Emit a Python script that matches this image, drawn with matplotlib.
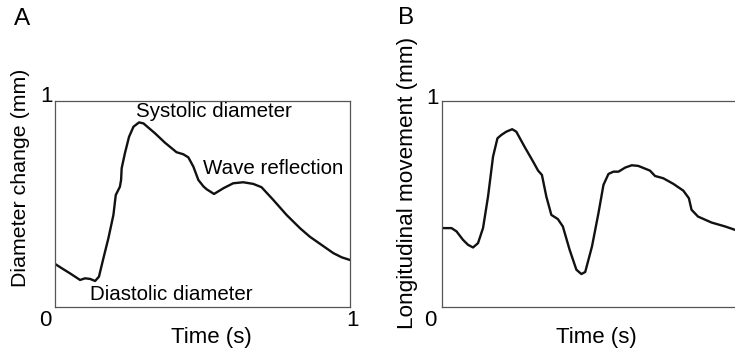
import matplotlib
matplotlib.use("Agg")
import matplotlib.pyplot as plt

plt.rcParams['font.family'] = ['Liberation Sans', 'DejaVu Sans']

# Panel A: diameter change (normalised) vs normalised time
t_a = [0.0, 0.023, 0.051, 0.085, 0.102, 0.119, 0.136, 0.149, 0.164, 0.181, 0.198,
       0.206, 0.22, 0.224, 0.226, 0.237, 0.251, 0.266, 0.285, 0.30, 0.339, 0.373,
       0.412, 0.435, 0.452, 0.469, 0.486, 0.503, 0.514, 0.539, 0.571, 0.604,
       0.638, 0.672, 0.70, 0.74, 0.785, 0.831, 0.864, 0.904, 0.944, 0.972, 1.0]
d_a = [0.208, 0.187, 0.162, 0.130, 0.138, 0.135, 0.125, 0.146, 0.235, 0.333, 0.446,
       0.543, 0.583, 0.616, 0.673, 0.746, 0.826, 0.875, 0.896, 0.891, 0.843, 0.797,
       0.751, 0.741, 0.726, 0.681, 0.616, 0.585, 0.571, 0.548, 0.576, 0.600,
       0.605, 0.597, 0.581, 0.519, 0.446, 0.381, 0.340, 0.300, 0.260, 0.240, 0.227]

# Panel B: longitudinal movement (normalised) vs normalised time
t_b = [0.0, 0.034, 0.051, 0.073, 0.09, 0.107, 0.124, 0.141, 0.158, 0.175, 0.19,
       0.203, 0.22, 0.24, 0.254, 0.282, 0.311, 0.328, 0.341, 0.356, 0.373, 0.395,
       0.412, 0.435, 0.458, 0.475, 0.488, 0.511, 0.533, 0.55, 0.567, 0.584,
       0.601, 0.624, 0.646, 0.668, 0.708, 0.725, 0.753, 0.787, 0.821, 0.84,
       0.849, 0.871, 0.917, 0.963, 1.0]
d_b = [0.383, 0.383, 0.367, 0.326, 0.302, 0.289, 0.310, 0.383, 0.536, 0.730, 0.819,
       0.835, 0.851, 0.863, 0.851, 0.778, 0.706, 0.662, 0.641, 0.536, 0.447, 0.427,
       0.391, 0.278, 0.181, 0.160, 0.170, 0.294, 0.456, 0.593, 0.646, 0.657,
       0.657, 0.677, 0.688, 0.685, 0.662, 0.636, 0.625, 0.598, 0.565, 0.528,
       0.472, 0.439, 0.410, 0.391, 0.373]

W, H = 735, 352
fig = plt.figure(figsize=(W / 100, H / 100), dpi=100)

def px_axes(x0, y0, x1, y1):
    return fig.add_axes([x0 / W, 1 - y1 / H, (x1 - x0) / W, (y1 - y0) / H])

spine_col = '#555555'

axA = px_axes(55, 101, 350, 306.7)
axA.plot(t_a, d_a, color='#111111', lw=1.7, solid_joinstyle='round',
         solid_capstyle='round')
axB = px_axes(441.5, 101, 736, 307)
axB.plot(t_b, d_b, color='#111111', lw=1.7, solid_joinstyle='round',
         solid_capstyle='round')

for ax in (axA, axB):
    ax.set_xlim(0, 1)
    ax.set_ylim(0, 1)
    ax.set_xticks([])
    ax.set_yticks([])
    for s in ax.spines.values():
        s.set_color(spine_col)
        s.set_linewidth(0.9)
axB.spines['right'].set_visible(False)

def ft(x, y, s, fs=15, **kw):
    fig.text(x / W, 1 - y / H, s, fontsize=fs,
             ha=kw.pop('ha', 'center'), va=kw.pop('va', 'center'), **kw)

# Panel letters
ft(22, 19, 'A', fs=17.5)
ft(406, 18, 'B', fs=17.5)

# Axis labels
ft(21, 178, 'Diameter change (mm)', fs=15.4, rotation=90)
ft(211, 337, 'Time (s)', fs=16)
ft(408, 183, 'Longitudinal movement (mm)', fs=16.2, rotation=90)
ft(596, 337, 'Time (s)', fs=16)

# Corner tick labels
ft(47, 96, '1', fs=16)
ft(45, 320, '0', fs=16)
ft(352, 320, '1', fs=16)
ft(432, 99, '1', fs=16)
ft(430, 320, '0', fs=16)

# Annotations in panel A
ft(214, 112, 'Systolic diameter', fs=14.8)
ft(273, 169, 'Wave reflection', fs=14.8)
ft(171, 295, 'Diastolic diameter', fs=14.8)

fig.savefig('out.png', dpi=100)
